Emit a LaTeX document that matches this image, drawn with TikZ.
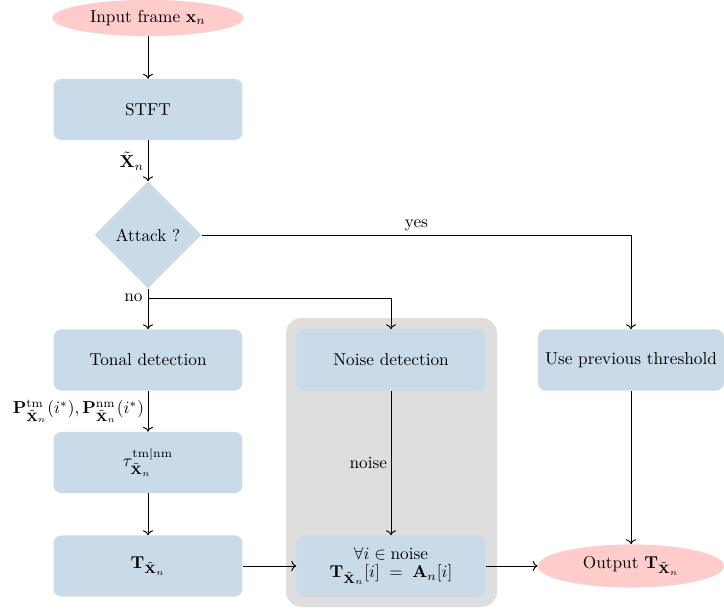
\documentclass[tikz,border=0pt]{standalone}
\usepackage{amsmath}
\usetikzlibrary{shapes.geometric,arrows.meta}
\definecolor{boxblue}{RGB}{201,219,233}
\definecolor{termpink}{RGB}{255,204,204}
\definecolor{groupgray}{RGB}{222,222,222}
\begin{document}
\begin{tikzpicture}[x=0.58pt,y=-0.58pt,
  procbox/.style={rectangle,rounded corners=4.5pt,fill=boxblue,minimum width=109.6pt,minimum height=35.4pt,inner sep=0pt,align=center},
  terminal/.style={ellipse,fill=termpink,inner sep=0pt,align=center},
  decision/.style={diamond,fill=boxblue,minimum width=62pt,minimum height=62pt,inner sep=0pt},
  flow/.style={->,line width=0.55pt},
  plain/.style={line width=0.55pt},
  lbl/.style={inner sep=2pt}]
  \useasboundingbox (0,0) rectangle (724,610);

  % grouping panel behind the noise branch
  \fill[groupgray,rounded corners=9pt] (286,318) rectangle (497,607);

  % nodes
  \node[terminal,minimum width=111pt,minimum height=21pt] (input) at (148,18) {Input frame $\mathbf{x}_n$};
  \node[procbox] (stft) at (148,109.5) {STFT};
  \node[decision] (attack) at (148,235) {Attack ?};
  \node[procbox] (tonal) at (148,360) {Tonal detection};
  \node[procbox] (noisedet) at (391,360) {Noise detection};
  \node[procbox,minimum width=108pt] (prev) at (631,360) {Use previous threshold};
  \node[procbox] (tau) at (148,462.5) {$\tau^{\mathrm{tm|nm}}_{\tilde{\mathbf{X}}_n}$};
  \node[procbox] (thr) at (148,566) {$\mathbf{T}_{\tilde{\mathbf{X}}_n}$};
  \node[procbox] (assign) at (391,566) {$\forall i \in \text{noise}$\\[-1pt]$\mathbf{T}_{\tilde{\mathbf{X}}_n}[i] \;=\; \mathbf{A}_n[i]$};
  \node[terminal,minimum width=108pt,minimum height=25pt] (output) at (631,566) {Output $\mathbf{T}_{\tilde{\mathbf{X}}_n}$};

  \coordinate (nofork) at (148,298);
  \coordinate (yescorner) at (631,235);

  % connectors
  \draw[flow] (input) -- (stft);
  \draw[flow] (stft) -- node[lbl,left] {$\tilde{\mathbf{X}}_n$} (attack);
  \draw[plain] (attack.east) -- node[lbl,above] {yes} (yescorner);
  \draw[flow] (yescorner) -- (prev.north);
  \draw[flow] (attack.south) -- (tonal.north);
  \node[left,inner sep=3pt] (nolbl) at (nofork) {no};
  \draw[flow] (nofork) -| (noisedet.north);
  \draw[flow] (tonal) -- node[lbl,left] {$\mathbf{P}^{\mathrm{tm}}_{\tilde{\mathbf{X}}_n}(i^*),\mathbf{P}^{\mathrm{nm}}_{\tilde{\mathbf{X}}_n}(i^*)$} (tau);
  \draw[flow] (tau) -- (thr);
  \draw[flow] (thr) -- (assign);
  \draw[flow] (noisedet) -- node[lbl,left] {noise} (assign);
  \draw[flow] (assign) -- (output);
  \draw[flow] (prev) -- (output);
\end{tikzpicture}
\end{document}
